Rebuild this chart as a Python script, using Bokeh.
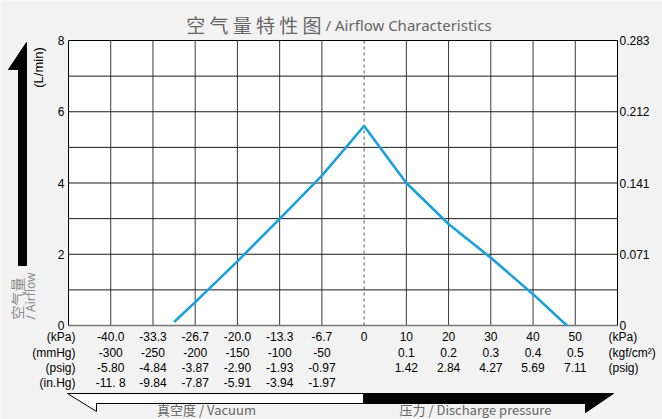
import math
from bokeh.plotting import figure
from bokeh.models import Range1d
from bokeh.core.properties import value
from bokeh.embed import file_html
from bokeh.resources import INLINE

# ---------------- data ----------------
pressure_kpa = [-30.0, -26.7, -20.0, -13.3, -6.7, 0.0, 10.0, 20.0, 30.0, 40.0, 48.0]
airflow_lpm = [0.1, 0.65, 1.8, 3.0, 4.2, 5.6, 4.0, 2.85, 1.9, 0.88, 0.0]

vac_kpa = ["-40.0", "-33.3", "-26.7", "-20.0", "-13.3", "-6.7"]
vac_mmhg = ["-300", "-250", "-200", "-150", "-100", "-50"]
vac_psig = ["-5.80", "-4.84", "-3.87", "-2.90", "-1.93", "-0.97"]
vac_inhg = ["-11. 8", "-9.84", "-7.87", "-5.91", "-3.94", "-1.97"]
prs_kpa = ["10", "20", "30", "40", "50"]
prs_kgf = ["0.1", "0.2", "0.3", "0.4", "0.5"]
prs_psig = ["1.42", "2.84", "4.27", "5.69", "7.11"]
zero_label = ["0"]
left_units = ["(kPa)", "(mmHg)", "(psig)", "(in.Hg)"]
right_units = ["(kPa)", "(kgf/cm²)", "(psig)"]
y_grid = [1, 2, 3, 4, 5, 6, 7]
y_ticks = [0, 2, 4, 6, 8]
y_labels_lpm = ["0", "2", "4", "6", "8"]
y_labels_cfm = ["0", "0.071", "0.141", "0.212", "0.283"]

# x scale: vacuum side one cell = 6.67 kPa, pressure side one cell = 10 kPa
def cell(k):
    return k / (40.0 / 6.0) if k < 0 else k / 10.0

vac_cells = [-6, -5, -4, -3, -2, -1]
prs_cells = [1, 2, 3, 4, 5]
XMIN, XMAX, YMIN, YMAX = -7, 6, 0, 8

# ---------------- layout ----------------
W, H = 662, 419
FL, FR, FT, FB = 68, 617, 40, 325  # plot-area edges in canvas px
KX = (FR - FL) / (XMAX - XMIN)
KY = (FB - FT) / (YMAX - YMIN)

def dx(px):
    return XMIN + (px - FL) / KX

def dy(py):
    return YMIN + (FB - py) / KY

p = figure(width=W, height=H, output_backend="svg", toolbar_location=None,
           x_range=Range1d(dx(0), dx(W)), y_range=Range1d(dy(H), dy(0)),
           x_axis_location=None, y_axis_location=None, min_border=0)
p.background_fill_color = "#f2f2f2"
p.border_fill_color = "#f2f2f2"
p.outline_line_color = None
p.grid.grid_line_color = None

NUMFONT = "Liberation Sans"
CJK = "Noto Sans CJK SC"
LAT = "Noto Sans"

# plot area
p.quad(left=[XMIN], right=[XMAX], bottom=[YMIN], top=[YMAX],
       fill_color="white", line_color=None)

# grid
vx = vac_cells + prs_cells
p.segment(x0=vx, y0=[YMIN] * len(vx), x1=vx, y1=[YMAX] * len(vx),
          line_color="#3a3a3a", line_width=1)
p.segment(x0=[XMIN] * len(y_grid), y0=y_grid, x1=[XMAX] * len(y_grid), y1=y_grid,
          line_color="#1a1a1a", line_width=1)
p.segment(x0=[0], y0=[YMIN], x1=[0], y1=[YMAX], line_color="#555555",
          line_dash="3 3", line_width=1)
# border
p.quad(left=[XMIN], right=[XMAX], bottom=[YMIN], top=[YMAX],
       fill_color=None, line_color="black", line_width=1)
p.segment(x0=[XMIN], y0=[YMIN], x1=[XMAX], y1=[YMIN], line_color="#777777", line_width=1.5)

# curve
p.line([cell(k) for k in pressure_kpa], airflow_lpm, line_color="#1aa0e2",
       line_width=2.6)

def txt(xs, ys, ts, align="center", size="12px", font=NUMFONT, color="black",
        angle=0.0, baseline="middle"):
    p.text(x=xs, y=ys, text=ts, text_align=align, text_baseline=baseline,
           text_font=value(font), text_font_size=value(size), text_color=color,
           angle=angle)

# y tick labels (left L/min, right cfm)
txt([dx(64)] * len(y_ticks), y_ticks, y_labels_lpm, align="right")
txt([dx(619)] * len(y_ticks), y_ticks, y_labels_cfm, align="left")

# x tick rows
row_y = [dy(336), dy(352), dy(367), dy(382)]
txt(vac_cells + [0] + prs_cells, [row_y[0]] * 12, vac_kpa + zero_label + prs_kpa)
txt(vac_cells + prs_cells, [row_y[1]] * 11, vac_mmhg + prs_kgf)
txt(vac_cells + prs_cells, [row_y[2]] * 11, vac_psig + prs_psig)
txt(vac_cells, [row_y[3]] * 6, vac_inhg)
txt([dx(75)] * 4, row_y, left_units, align="right")
txt([dx(608)] * 3, row_y[:3], right_units, align="left")

# title
txt([dx(321)], [dy(24)], ["空 气 量 特 性 图"], align="right", size="19px", font=CJK, color="#666666")
txt([dx(325)], [dy(24)], ["/ Airflow Characteristics"], align="left", size="15px", font=LAT, color="#666666")

# y unit & vertical caption
txt([dx(38)], [dy(67)], ["(L/min)"], size="13px", angle=math.pi / 2)
txt([dx(16.5)], [dy(319)], ["空气量"], align="left", size="14px", font=CJK, color="#8a8a8a", angle=math.pi / 2)
txt([dx(29.5)], [dy(319)], ["/ Airflow"], align="left", size="12px", font=LAT, color="#8a8a8a", angle=math.pi / 2)

# big up arrow on the left
ax_px = [26, 8, 18, 18, 26]
ay_px = [42, 69, 69, 265, 265]
p.patch([dx(v) for v in ax_px], [dy(v) for v in ay_px], fill_color="black", line_color="black")

# bottom arrows
wx = [67, 363, 363, 96, 96]
wy = [393, 393, 403, 403, 411]
p.patch([dx(v) for v in wx], [dy(v) for v in wy], fill_color="white", line_color="black", line_width=1)
bx = [363, 613, 585, 585, 363]
by = [393, 393, 412, 403, 403]
p.patch([dx(v) for v in bx], [dy(v) for v in by], fill_color="black", line_color="black")

txt([dx(206)], [dy(409)], ["真空度 / Vacuum"], size="13px", font=CJK, color="#666666")
txt([dx(475)], [dy(409)], ["压力 / Discharge pressure"], size="13px", font=CJK, color="#666666")

open("out.html", "w").write(file_html(p, INLINE))
